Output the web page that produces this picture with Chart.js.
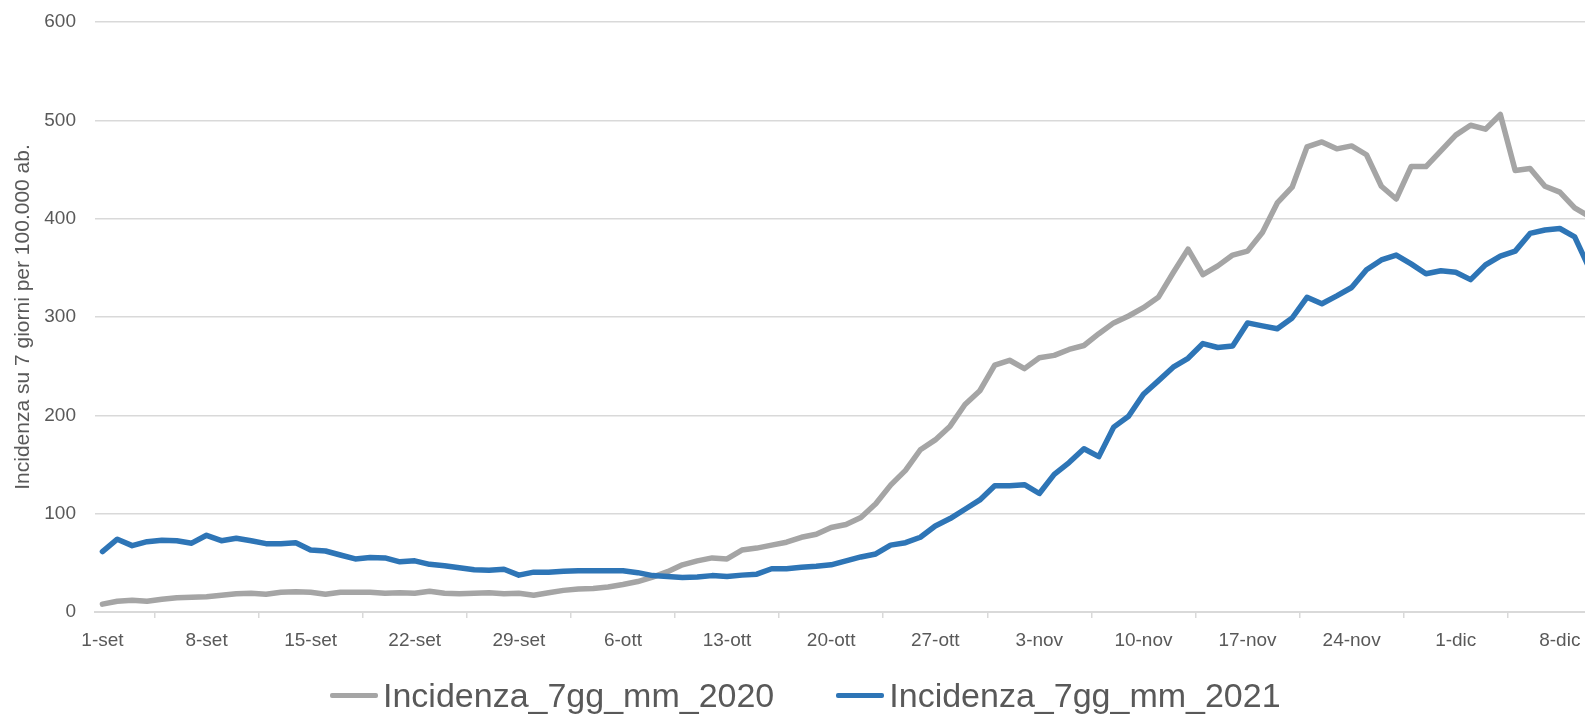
<!DOCTYPE html>
<html>
<head>
<meta charset="utf-8">
<script src="https://cdn.jsdelivr.net/npm/chart.js@4/dist/chart.umd.min.js"></script>
<style>
  html, body { margin: 0; padding: 0; background: #fff; overflow: hidden; width: 1585px; height: 716px; }
  #wrap { position: relative; width: 1585px; height: 716px; overflow: hidden; }
  #chart { position: absolute; left: 0; top: 0; }
  .legend { position: absolute; left: 330px; top: 678px; display: flex; align-items: center; gap: 62px;
    font-family: 'Liberation Sans', Arial, sans-serif; font-size: 34px; line-height: 1; color: #595959; white-space: nowrap; }
  .legend .item { display: flex; align-items: center; }
  .legend .swatch { width: 48px; height: 5px; border-radius: 2px; margin-right: 5px; }
</style>
</head>
<body>
<div id="wrap">
  <canvas id="chart" width="1600" height="716"></canvas>
  <div class="legend" id="legend"></div>
</div>
<script>
// Daily labels, 1 Sept -> 10 Dec
const days = [
  '1-set','2-set','3-set','4-set','5-set','6-set','7-set','8-set','9-set','10-set',
  '11-set','12-set','13-set','14-set','15-set','16-set','17-set','18-set','19-set','20-set',
  '21-set','22-set','23-set','24-set','25-set','26-set','27-set','28-set','29-set','30-set',
  '1-ott','2-ott','3-ott','4-ott','5-ott','6-ott','7-ott','8-ott','9-ott','10-ott',
  '11-ott','12-ott','13-ott','14-ott','15-ott','16-ott','17-ott','18-ott','19-ott','20-ott',
  '21-ott','22-ott','23-ott','24-ott','25-ott','26-ott','27-ott','28-ott','29-ott','30-ott','31-ott',
  '1-nov','2-nov','3-nov','4-nov','5-nov','6-nov','7-nov','8-nov','9-nov','10-nov',
  '11-nov','12-nov','13-nov','14-nov','15-nov','16-nov','17-nov','18-nov','19-nov','20-nov',
  '21-nov','22-nov','23-nov','24-nov','25-nov','26-nov','27-nov','28-nov','29-nov','30-nov',
  '1-dic','2-dic','3-dic','4-dic','5-dic','6-dic','7-dic','8-dic','9-dic','10-dic'
];

// 7-day incidence per 100k, moving average
const inc2020 = [
  8, 11, 12, 11, 13, 14.5, 15, 15.5, 17, 18.5,
  19, 18, 20, 20.5, 20, 18, 20, 20, 20, 19,
  19.5, 19, 21, 19, 18.5, 19, 19.5, 18.5, 19, 17,
  19.5, 22, 23.5, 24, 25.5, 28, 31, 35.5, 41, 48,
  52, 55, 54, 63, 65, 68, 71, 76, 79, 86,
  89, 96, 110, 129, 144, 165, 175, 189, 211, 225, 251,
  256, 247.5, 258.5, 261, 267, 271, 283, 294, 301, 309.5,
  320, 345, 369, 343, 352, 363, 367, 386, 416, 432,
  473, 478, 471, 474, 465, 433, 420, 453, 453, 469,
  485, 495, 491, 506, 449, 451, 433, 427, 411, 402
];
const inc2021 = [
  61.5, 74, 67.5, 71.5, 73, 72.5, 70, 78, 72.5, 75,
  72.5, 69.5, 69.5, 70.5, 63, 62, 58, 54, 55.5, 55,
  51, 52, 48.5, 47, 45, 43, 42.5, 43.5, 37.5, 40.5,
  40.5, 41.5, 42, 42, 42, 42, 40, 37, 36, 35,
  35.5, 37, 36, 37.5, 38.5, 44, 44, 45.5, 46.5, 48,
  52, 56, 59, 68, 70.5, 76, 87.5, 95, 104.5, 114, 128.5,
  128.5, 129.5, 120.5, 140, 152, 166, 158, 188, 199, 221.5,
  235, 249, 258, 273, 269, 270.5, 294, 291, 288, 299,
  320, 313.5, 321.5, 330, 348, 358, 363, 354, 344, 347,
  345.5, 338, 353, 362, 367, 385, 388.5, 390, 381.5, 349
];

const seriesNames = ['Incidenza_7gg_mm_2020', 'Incidenza_7gg_mm_2021'];
const seriesColors = ['#a5a5a5', '#2e75b6'];
const yTicks = [0, 100, 200, 300, 400, 500, 600];

const FONT = "'Liberation Sans', Arial, sans-serif";
const TEXT = '#595959';
const GRID = '#d9d9d9';

const chart = new Chart(document.getElementById('chart'), {
  type: 'line',
  data: {
    labels: days,
    datasets: [
      { label: seriesNames[0], data: inc2020, borderColor: seriesColors[0], order: 1 },
      { label: seriesNames[1], data: inc2021, borderColor: seriesColors[1], order: 0 }
    ]
  },
  options: {
    responsive: false,
    animation: false,
    layout: { padding: { top: 22, right: 3, left: 0, bottom: 0 } },
    elements: {
      point: { radius: 0, hoverRadius: 0 },
      line: { borderWidth: 5.5, tension: 0, borderJoinStyle: 'round', borderCapStyle: 'round', fill: false }
    },
    plugins: { legend: { display: false }, tooltip: { enabled: false } },
    scales: {
      x: {
        offset: true,
        grid: { offset: true, drawOnChartArea: false, drawTicks: true, tickLength: 6, color: GRID, lineWidth: 1.5 },
        border: { color: GRID, width: 2 },
        ticks: {
          autoSkip: false, maxRotation: 0, minRotation: 0, padding: 11,
          color: TEXT, font: { family: FONT, size: 19 },
          // only a label (and tick mark) every 7 days
          callback: (v, i) => (i % 7 === 0 ? days[i] : null)
        },
        afterFit: (s) => { s.height = 104; }
      },
      y: {
        min: yTicks[0], max: yTicks[yTicks.length - 1],
        afterBuildTicks: (s) => { s.ticks = yTicks.map(v => ({ value: v })); },
        // invisible tick marks give the gap between labels and plot
        grid: { color: GRID, lineWidth: 1.5, drawTicks: true, tickLength: 19, tickColor: 'rgba(0,0,0,0)' },
        border: { display: false },
        ticks: { padding: 0, color: TEXT, font: { family: FONT, size: 19 } },
        title: {
          display: true, text: 'Incidenza su 7 giorni per 100.000 ab.',
          color: TEXT, font: { family: FONT, size: 21 }, padding: { top: 11, bottom: 0 }
        },
        afterFit: (s) => { s.width = 95; }
      }
    }
  }
});

// legend below the plot, built from the series arrays
const legendEl = document.getElementById('legend');
seriesNames.forEach((name, i) => {
  const item = document.createElement('div');
  item.className = 'item';
  const sw = document.createElement('span');
  sw.className = 'swatch';
  sw.style.background = seriesColors[i];
  const txt = document.createElement('span');
  txt.textContent = name;
  item.appendChild(sw);
  item.appendChild(txt);
  legendEl.appendChild(item);
});
</script>
</body>
</html>
